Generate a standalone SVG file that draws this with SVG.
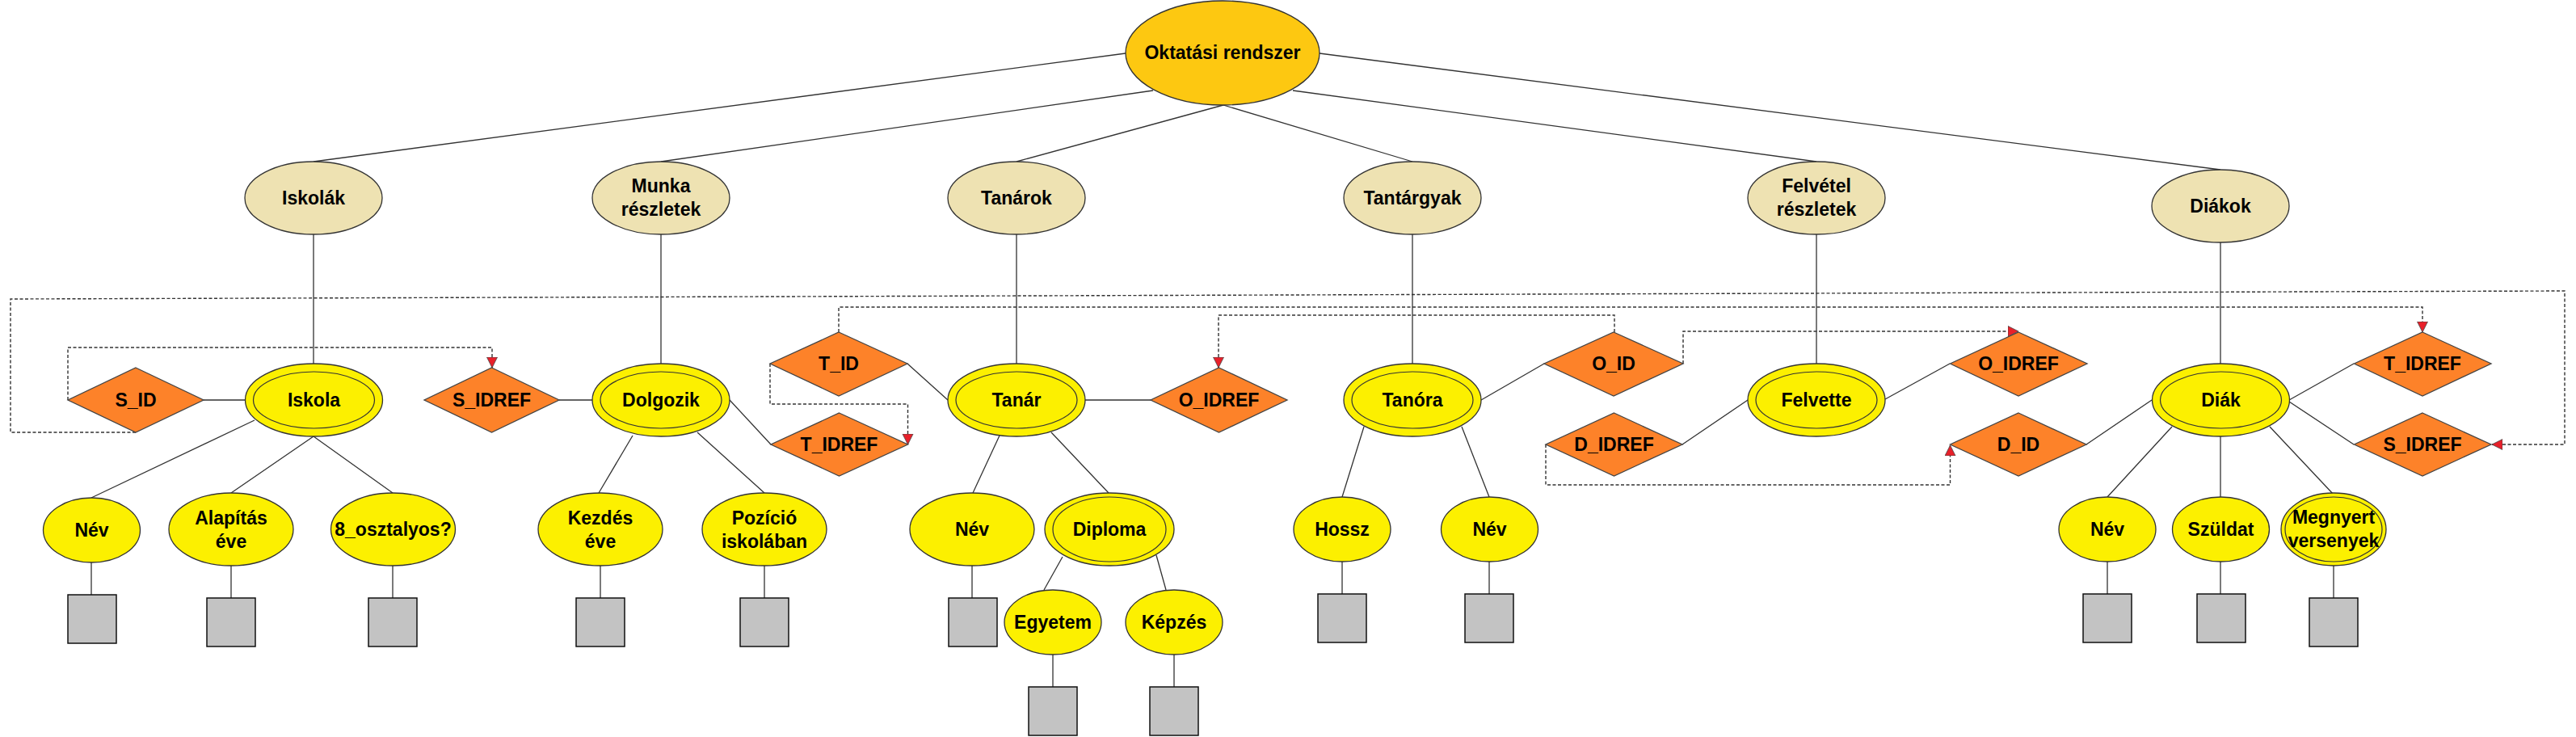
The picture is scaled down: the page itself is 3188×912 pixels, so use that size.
<svg xmlns="http://www.w3.org/2000/svg" width="3188" height="912" viewBox="0 0 3188 912">
<style>
text{font-family:"Liberation Sans",Arial,sans-serif;font-weight:bold;font-size:23px;fill:#000;text-anchor:middle}
.root{fill:#FDC811;stroke:#333;stroke-width:1.3}
.grp{fill:#EEE2B2;stroke:#333;stroke-width:1.3}
.ent{fill:#FCF000;stroke:#333;stroke-width:1.3}
.inner{fill:none;stroke:#333;stroke-width:1.2}
.dia{fill:#FD8229;stroke:#444;stroke-width:1.3}
.box{fill:#C3C3C3;stroke:#111;stroke-width:1.5}
.ln{stroke:#333;stroke-width:1.3;fill:none}
.dot{stroke:#333;stroke-width:1.4;fill:none;stroke-dasharray:4 2.5}
</style>
<defs>
<marker id="arr" markerUnits="userSpaceOnUse" markerWidth="16" markerHeight="16" refX="13" refY="7" orient="auto">
<path d="M0,0.5 L13,7 L0,13.5 z" fill="#E8202A" stroke="#444" stroke-width="0.8"/>
</marker>
</defs>
<rect width="3188" height="912" fill="#fff"/>

<g id="connectors">
<path class="ln" d="M1393,66 L388,200 M1427,112 L818,200 M1514,130 L1258,200 M1514,130 L1748,200 M1600,112 L2248,200 M1633,66 L2748,210"/>
<path class="ln" d="M388,290 V451 M818,290 V451 M1258,290 V451 M1748,290 V451 M2248,290 V451 M2748,300 V451"/>
<path class="ln" d="M252,495 L304,495 M315,520 L113,616 M388,540 L286,610 M388,540 L486,610"/>
<path class="ln" d="M692,495 L733,495 M783,539 L741,610 M863,535 L946,610 M903,495 L954,550"/>
<path class="ln" d="M1123,450 L1173,495 M1343,495 L1424,495 M1237,539 L1204,610 M1301,535 L1372,610 M1315,689 L1292,730 M1431,687 L1443,730"/>
<path class="ln" d="M1833,495 L1911,450 M1688,528 L1661,615 M1809,528 L1843,615 M2082,550 L2163,495 M2333,494 L2413,450"/>
<path class="ln" d="M2663,495 L2582,550 M2833,495 L2913,450 M2833,497 L2913,550 M2688,528 L2608,615 M2748,540 L2748,615 M2809,528 L2888,612"/>
<path class="ln" d="M113,696 V736 M286,700 V740 M486,700 V740 M743,700 V740 M946,700 V740 M1203,700 V740 M1303,810 V850 M1453,810 V850 M1661,695 V735 M1843,695 V735 M2608,695 V735 M2748,695 V735 M2888,700 V740"/>
<path class="dot" d="M168,535 H13 V370 L3174,360 V550 H3084" marker-end="url(#arr)"/>
<path class="dot" d="M84,495 V430 H609 V455" marker-end="url(#arr)"/>
<path class="dot" d="M1038,411 V380 H2998 V411" marker-end="url(#arr)"/>
<path class="dot" d="M953,450 V500 H1123.5 V550" marker-end="url(#arr)"/>
<path class="dot" d="M1998,411 V390 H1508 V455" marker-end="url(#arr)"/>
<path class="dot" d="M2083,450 V410 H2498" marker-end="url(#arr)"/>
<path class="dot" d="M1913,550 V600 H2413.5 V551" marker-end="url(#arr)"/>
</g>

<g id="n-oktatasi"><ellipse class="root" cx="1513" cy="65.5" rx="120" ry="64.5"/><text x="1513" y="73">Oktatási rendszer</text></g>

<g id="n-iskolak"><ellipse class="grp" cx="388" cy="245" rx="85" ry="45"/><text x="388" y="253">Iskolák</text></g>
<g id="n-munka"><ellipse class="grp" cx="818" cy="245" rx="85" ry="45"/><text x="818" y="238">Munka</text><text x="818" y="267">részletek</text></g>
<g id="n-tanarok"><ellipse class="grp" cx="1258" cy="245" rx="85" ry="45"/><text x="1258" y="253">Tanárok</text></g>
<g id="n-tantargyak"><ellipse class="grp" cx="1748" cy="245" rx="85" ry="45"/><text x="1748" y="253">Tantárgyak</text></g>
<g id="n-felvetel"><ellipse class="grp" cx="2248" cy="245" rx="85" ry="45"/><text x="2248" y="238">Felvétel</text><text x="2248" y="267">részletek</text></g>
<g id="n-diakok"><ellipse class="grp" cx="2748" cy="255" rx="85" ry="45"/><text x="2748" y="263">Diákok</text></g>

<g id="n-iskola"><ellipse class="ent" cx="388.5" cy="495" rx="85" ry="45"/><ellipse class="inner" cx="388.5" cy="495" rx="75" ry="35"/><text x="388.5" y="503">Iskola</text></g>
<g id="n-dolgozik"><ellipse class="ent" cx="818" cy="495" rx="85" ry="45"/><ellipse class="inner" cx="818" cy="495" rx="75" ry="35"/><text x="818" y="503">Dolgozik</text></g>
<g id="n-tanar"><ellipse class="ent" cx="1258" cy="495" rx="85" ry="45"/><ellipse class="inner" cx="1258" cy="495" rx="75" ry="35"/><text x="1258" y="503">Tanár</text></g>
<g id="n-tanora"><ellipse class="ent" cx="1748" cy="495" rx="85" ry="45"/><ellipse class="inner" cx="1748" cy="495" rx="75" ry="35"/><text x="1748" y="503">Tanóra</text></g>
<g id="n-felvette"><ellipse class="ent" cx="2248" cy="495" rx="85" ry="45"/><ellipse class="inner" cx="2248" cy="495" rx="75" ry="35"/><text x="2248" y="503">Felvette</text></g>
<g id="n-diak"><ellipse class="ent" cx="2748.5" cy="495" rx="85" ry="45"/><ellipse class="inner" cx="2748.5" cy="495" rx="75" ry="35"/><text x="2748.5" y="503">Diák</text></g>

<g id="d-sid"><polygon class="dia" points="168,455 252,495 168,535 84,495"/><text x="168" y="503">S_ID</text></g>
<g id="d-sidref1"><polygon class="dia" points="608.5,455 692,495 608.5,535 525,495"/><text x="608.5" y="503">S_IDREF</text></g>
<g id="d-tid"><polygon class="dia" points="1038,411 1123,450 1038,490 953,450"/><text x="1038" y="458">T_ID</text></g>
<g id="d-tidref1"><polygon class="dia" points="1038.5,511 1123.5,550 1038.5,589 954,550"/><text x="1038.5" y="558">T_IDREF</text></g>
<g id="d-oidref1"><polygon class="dia" points="1508.5,455 1593,495 1508.5,535 1424,495"/><text x="1508.5" y="503">O_IDREF</text></g>
<g id="d-oid"><polygon class="dia" points="1997,411 2083,450 1997,490 1911,450"/><text x="1997" y="458">O_ID</text></g>
<g id="d-didref"><polygon class="dia" points="1997.5,511 2082,550 1997.5,589 1913,550"/><text x="1997.5" y="558">D_IDREF</text></g>
<g id="d-oidref2"><polygon class="dia" points="2498,411 2583,450 2498,490 2413.5,450"/><text x="2498" y="458">O_IDREF</text></g>
<g id="d-did"><polygon class="dia" points="2498,511 2582,550 2498,589 2413.5,550"/><text x="2498" y="558">D_ID</text></g>
<g id="d-tidref2"><polygon class="dia" points="2998,411 3083,450 2998,490 2913.5,450"/><text x="2998" y="458">T_IDREF</text></g>
<g id="d-sidref2"><polygon class="dia" points="2998,511 3083,550 2998,589 2913.5,550"/><text x="2998" y="558">S_IDREF</text></g>

<g id="a-isk-nev"><ellipse class="ent" cx="113.5" cy="656" rx="60" ry="40"/><text x="113.5" y="664">Név</text><rect class="box" x="84" y="736" width="60" height="60"/></g>
<g id="a-alapitas"><ellipse class="ent" cx="286" cy="655" rx="77" ry="45"/><text x="286" y="649">Alapítás</text><text x="286" y="678">éve</text><rect class="box" x="256" y="740" width="60" height="60"/></g>
<g id="a-8oszt"><ellipse class="ent" cx="486.5" cy="655" rx="77" ry="45"/><text x="486.5" y="663">8_osztalyos?</text><rect class="box" x="456" y="740" width="60" height="60"/></g>
<g id="a-kezdes"><ellipse class="ent" cx="743" cy="655" rx="77" ry="45"/><text x="743" y="649">Kezdés</text><text x="743" y="678">éve</text><rect class="box" x="713" y="740" width="60" height="60"/></g>
<g id="a-pozicio"><ellipse class="ent" cx="946" cy="655" rx="77" ry="45"/><text x="946" y="649">Pozíció</text><text x="946" y="678">iskolában</text><rect class="box" x="916" y="740" width="60" height="60"/></g>
<g id="a-tanar-nev"><ellipse class="ent" cx="1203" cy="655" rx="77" ry="45"/><text x="1203" y="663">Név</text><rect class="box" x="1174" y="740" width="60" height="60"/></g>
<g id="a-diploma"><ellipse class="ent" cx="1373" cy="655" rx="80" ry="45"/><ellipse class="inner" cx="1373" cy="655" rx="70" ry="40"/><text x="1373" y="663">Diploma</text></g>
<g id="a-egyetem"><ellipse class="ent" cx="1303" cy="770" rx="60" ry="40"/><text x="1303" y="778">Egyetem</text><rect class="box" x="1273" y="850" width="60" height="60"/></g>
<g id="a-kepzes"><ellipse class="ent" cx="1453" cy="770" rx="60" ry="40"/><text x="1453" y="778">Képzés</text><rect class="box" x="1423" y="850" width="60" height="60"/></g>
<g id="a-hossz"><ellipse class="ent" cx="1661" cy="655" rx="60" ry="40"/><text x="1661" y="663">Hossz</text><rect class="box" x="1631" y="735" width="60" height="60"/></g>
<g id="a-tanora-nev"><ellipse class="ent" cx="1843.5" cy="655" rx="60" ry="40"/><text x="1843.5" y="663">Név</text><rect class="box" x="1813" y="735" width="60" height="60"/></g>
<g id="a-diak-nev"><ellipse class="ent" cx="2608" cy="655" rx="60" ry="40"/><text x="2608" y="663">Név</text><rect class="box" x="2578" y="735" width="60" height="60"/></g>
<g id="a-szuldat"><ellipse class="ent" cx="2748.5" cy="655" rx="60" ry="40"/><text x="2748.5" y="663">Szüldat</text><rect class="box" x="2719" y="735" width="60" height="60"/></g>
<g id="a-megnyert"><ellipse class="ent" cx="2888" cy="655" rx="65" ry="45"/><ellipse class="inner" cx="2888" cy="655" rx="60" ry="40"/><text x="2888" y="648">Megnyert</text><text x="2888" y="677">versenyek</text><rect class="box" x="2858" y="740" width="60" height="60"/></g>
</svg>
